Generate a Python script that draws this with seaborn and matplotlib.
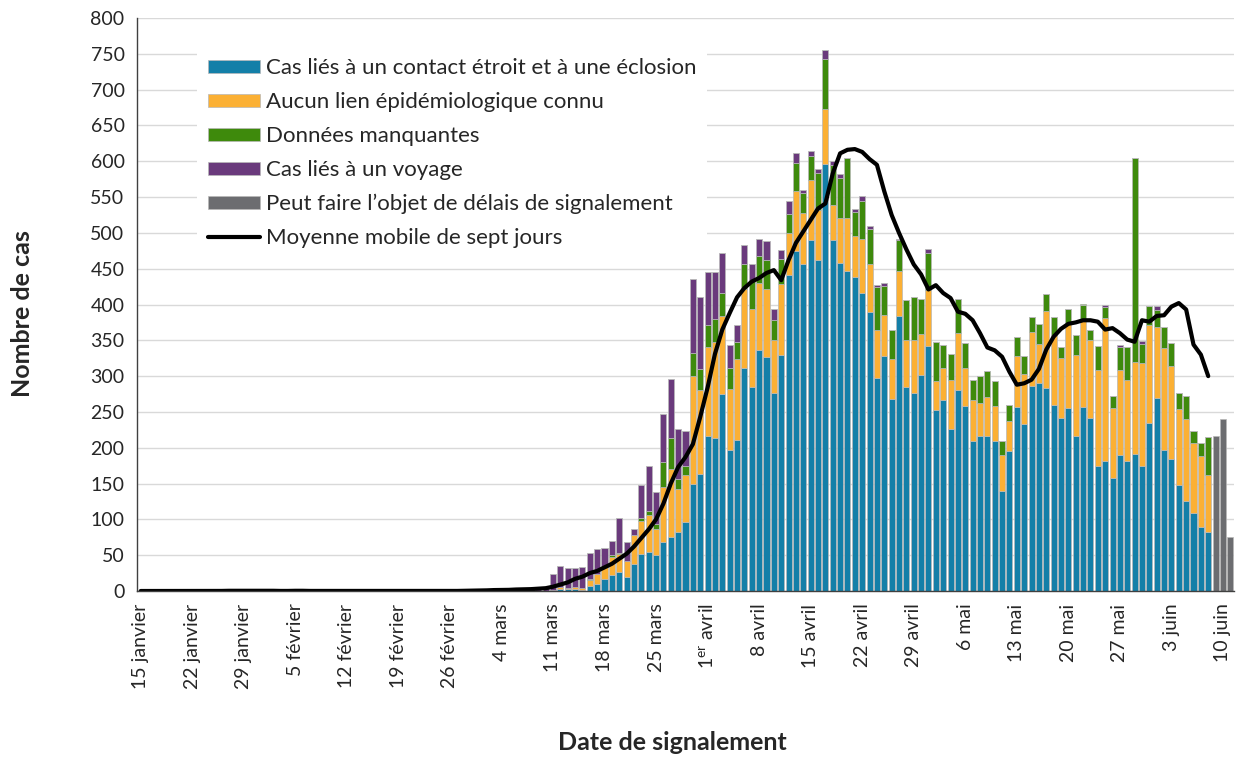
import numpy as np
import pandas as pd
import seaborn as sns
import matplotlib.pyplot as plt
from matplotlib.patches import Patch
from matplotlib.lines import Line2D

# --- data -----------------------------------------------------------------
# 15 janvier - 10 mars: only a handful of travel cases
early_travel = [0, 0, 0, 0, 0, 0, 0, 0, 0, 0,
                1, 0, 1, 0, 0, 0, 1, 0, 0, 0,
                0, 1, 0, 0, 0, 0, 0, 0, 0, 0,
                0, 0, 0, 0, 0, 0, 0, 0, 0, 0,
                0, 0, 1, 0, 1, 1, 2, 1, 3, 2,
                2, 3, 4, 2, 5, 4]
early_avg = [0, 0, 0, 0, 0, 0, 0, 0, 0, 0,
             0.1, 0.1, 0.3, 0.3, 0.3, 0.3, 0.4, 0.3, 0.3, 0.1,
             0.1, 0.3, 0.3, 0.1, 0.1, 0.1, 0.1, 0.1, 0, 0,
             0, 0, 0, 0, 0, 0, 0, 0, 0, 0,
             0, 0, 0.1, 0.1, 0.3, 0.4, 0.7, 0.9, 1.3, 1.4,
             1.6, 2.1, 2.4, 2.6, 3.3, 3.9]

# 11 mars - 11 juin
contact = [1, 3, 3, 3, 1, 7, 10, 17, 22, 26,
           19, 38, 52, 55, 50, 69, 76, 83, 97, 150,
           164, 216, 214, 275, 197, 211, 312, 285, 337, 327,
           277, 330, 441, 474, 457, 490, 462, 596, 490, 458,
           447, 439, 416, 390, 297, 328, 268, 384, 285, 276,
           302, 342, 253, 266, 226, 280, 258, 210, 216, 216,
           210, 139, 195, 257, 233, 286, 291, 283, 260, 242,
           256, 216, 257, 241, 175, 181, 158, 190, 181, 191,
           174, 235, 270, 197, 184, 148, 126, 109, 90, 82,
           0, 0, 0]
unlinked = [1, 2, 1, 2, 3, 9, 14, 16, 25, 25,
            23, 40, 46, 51, 37, 76, 95, 60, 65, 150,
            116, 124, 134, 109, 85, 113, 109, 109, 93, 95,
            73, 98, 59, 84, 71, 84, 70, 77, 49, 63,
            74, 56, 75, 67, 68, 57, 56, 63, 66, 75,
            57, 78, 40, 46, 68, 80, 54, 56, 47, 55,
            48, 51, 43, 71, 70, 75, 54, 108, 98, 83,
            118, 113, 123, 109, 134, 200, 98, 119, 114, 129,
            144, 136, 99, 142, 130, 106, 114, 98, 98, 80,
            0, 0, 0]
missing = [0, 1, 0, 0, 0, 1, 0, 0, 3, 2,
           0, 0, 4, 6, 7, 35, 42, 14, 12, 32,
           30, 31, 32, 32, 30, 23, 35, 40, 38, 40,
           28, 35, 27, 40, 27, 33, 52, 70, 56, 56,
           84, 34, 53, 48, 59, 41, 40, 43, 55, 59,
           48, 52, 54, 32, 37, 47, 34, 29, 37, 36,
           35, 20, 21, 26, 25, 21, 28, 24, 25, 15,
           20, 29, 20, 15, 33, 15, 16, 32, 46, 284,
           27, 27, 24, 30, 32, 22, 32, 17, 19, 53,
           0, 0, 0]
travel = [22, 29, 28, 27, 30, 36, 34, 27, 20, 49,
          27, 9, 46, 62, 44, 67, 83, 69, 49, 103,
          100, 75, 66, 56, 31, 24, 27, 22, 23, 27,
          16, 13, 18, 14, 5, 7, 5, 12, 5, 5,
          0, 5, 8, 4, 3, 4, 0, 2, 0, 0,
          0, 6, 0, 0, 0, 0, 0, 0, 0, 0,
          0, 0, 0, 0, 0, 0, 0, 0, 0, 0,
          0, 0, 0, 0, 0, 3, 0, 2, 0, 0,
          4, 0, 5, 0, 0, 0, 0, 0, 0, 0,
          0, 0, 0]
# 9 - 11 juin: may be subject to reporting delays
delayed = [216, 240, 76]

# seven-day moving average, 11 mars - 8 juin
avg = [6, 9, 12, 17, 20, 25, 28, 33, 38, 45,
       52, 62, 74, 86, 100, 122, 150, 173, 187, 205,
       243, 284, 331, 365, 388, 410, 423, 432, 437, 444,
       448, 434, 462, 486, 502, 518, 534, 541, 583, 611,
       616, 617, 613, 603, 595, 558, 525, 500, 477, 456,
       442, 421, 427, 416, 409, 390, 387, 378, 360, 340,
       336, 327, 306, 288, 290, 295, 310, 337, 355, 366,
       373, 375, 378, 378, 376, 365, 367, 360, 351, 348,
       378, 376, 384, 385, 397, 402, 393, 344, 330, 300]

tick_labels = ["15 janvier", "22 janvier", "29 janvier", "5 février",
               "12 février", "19 février", "26 février", "4 mars",
               "11 mars", "18 mars", "25 mars", "1$^{\\mathregular{er}}$ avril",
               "8 avril", "15 avril", "22 avril", "29 avril", "6 mai",
               "13 mai", "20 mai", "27 mai", "3 juin", "10 juin"]

names = ["Cas liés à un contact étroit et à une éclosion",
         "Aucun lien épidémiologique connu",
         "Données manquantes",
         "Cas liés à un voyage",
         "Peut faire l\u2019objet de délais de signalement"]
colors = ["#137FA8", "#FBB034", "#3E8A0C", "#6A3A7C", "#6C6D70"]
avg_name = "Moyenne mobile de sept jours"

# --- build long table --------------------------------------------------------
n_early = len(early_travel)
n_late = len(contact)
days = np.arange(n_early + n_late)
zeros_early = np.zeros(n_early)
series = {
    names[0]: np.concatenate([zeros_early, contact]),
    names[1]: np.concatenate([zeros_early, unlinked]),
    names[2]: np.concatenate([zeros_early, missing]),
    names[3]: np.concatenate([early_travel, travel]),
    names[4]: np.concatenate([np.zeros(len(days) - len(delayed)), delayed]),
}
df = pd.concat([pd.DataFrame({"jour": days, "cas": v, "cat": k})
                for k, v in series.items()], ignore_index=True)
avg_all = np.concatenate([early_avg, avg])

# --- plot ------------------------------------------------------------------
sns.set_style("white")
plt.rcParams["font.family"] = ["Lato", "DejaVu Sans"]

fig = plt.figure(figsize=(12.44, 7.59), dpi=100)
ax = fig.add_axes([137 / 1244, 1 - 591 / 759, 1097 / 1244, 573 / 759])

ax.set_axisbelow(True)
ax.yaxis.grid(True, color="#d9d9d9", linewidth=1)

sns.histplot(data=df, x="jour", weights="cas", hue="cat",
             hue_order=names[::-1], palette=dict(zip(names, colors)),
             multiple="stack", discrete=True, shrink=0.82, alpha=1,
             edgecolor="#b8b8b8", linewidth=0.5, legend=False, ax=ax)
sns.lineplot(x=days[:len(avg_all)], y=avg_all, color="black",
             linewidth=3, ax=ax)

ax.set_xlim(-0.5, 148.5)
ax.set_ylim(0, 800)
ax.set_yticks(range(0, 801, 50))
ax.tick_params(axis="y", length=5, width=1, color="#404040",
               labelsize=14, pad=4)

label_days = np.arange(0, 148, 7)
ax.set_xticks(label_days)
ax.set_xticklabels(tick_labels, rotation=90, fontsize=14)
ax.set_xticks(label_days - 0.5, minor=True)
ax.tick_params(axis="x", which="major", length=0, pad=9)
ax.tick_params(axis="x", which="minor", length=5, color="#404040", width=1)

for s in ["top", "right"]:
    ax.spines[s].set_visible(False)
for s in ["left", "bottom"]:
    ax.spines[s].set_color("#404040")
    ax.spines[s].set_linewidth(1)

ax.set_xlabel("Date de signalement", fontsize=18, fontweight="bold")
ax.set_ylabel("Nombre de cas", fontsize=18, fontweight="bold")
ax.xaxis.set_label_coords(0.4877, -0.245)
ax.yaxis.set_label_coords(-0.094, 0.485)

handles = [Patch(facecolor=c, edgecolor="#b8b8b8", linewidth=0.5) for c in colors]
handles.append(Line2D([0], [0], color="black", linewidth=3))
leg = ax.legend(handles, names + [avg_name], loc="upper left",
                bbox_to_anchor=(197 / 1244, 1 - 47 / 759),
                bbox_transform=fig.transFigure, frameon=True, fontsize=16,
                handlelength=2.35, handleheight=0.55, handletextpad=0.25,
                labelspacing=0.63, borderpad=0.5, borderaxespad=0)
leg.get_frame().set_facecolor("white")
leg.get_frame().set_edgecolor("none")
leg.get_frame().set_alpha(1)

fig.savefig("out.png", dpi=100)
